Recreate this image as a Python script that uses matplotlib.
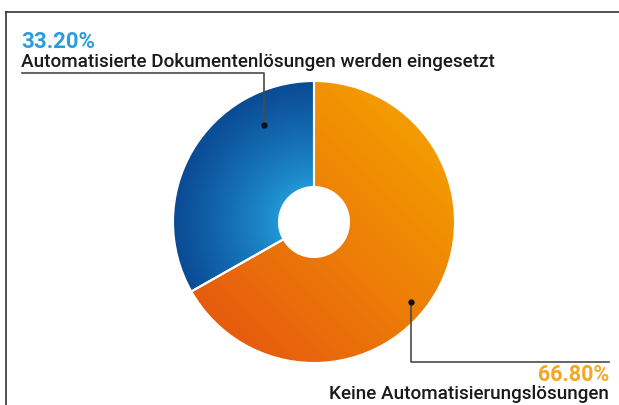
import numpy as np
import matplotlib
matplotlib.use("Agg")
import matplotlib.pyplot as plt

plt.rcParams["font.family"] = ["Roboto", "DejaVu Sans"]

labels = ["Automatisierte Dokumentenlösungen werden eingesetzt", "Keine Automatisierungslösungen"]
values = [33.20, 66.80]
pct_text = ["33.20%", "66.80%"]
pct_colors = ["#2a9ddb", "#f5a623"]

W, H = 619, 405
fig = plt.figure(figsize=(W / 100, H / 100), dpi=100)
ax = fig.add_axes([0, 0, 1, 1])
ax.set_xlim(0, W)
ax.set_ylim(0, H)
ax.set_aspect("equal")
ax.axis("off")

# frame (top and left lines)
ax.plot([6, W], [H - 12, H - 12], color="#222222", lw=1.1)
ax.plot([6, 6], [H - 12, 0], color="#222222", lw=1.1)

cx, cy, R, r_hole = 314, H - 222, 141, 35
wedges, _ = ax.pie(values, startangle=90, counterclock=True, radius=R, center=(cx, cy),
                   colors=["#1565b0", "#ee7a05"],
                   wedgeprops=dict(width=R - r_hole, edgecolor="white", linewidth=1.5))
ax.set_xlim(0, W)
ax.set_ylim(0, H)

# gradients clipped to the wedges
n = 300
xs = np.linspace(cx - R, cx + R, n)
ys = np.linspace(cy - R, cy + R, n)
X, Y = np.meshgrid(xs, ys)
rr = np.hypot(X - cx, Y - cy) / R
light = np.array([0x22, 0x9a, 0xd8]) / 255
dark = np.array([0x0a, 0x4a, 0x94]) / 255
t = np.clip((rr - 0.25) / 0.75, 0, 1)[..., None] ** 0.8
blue_img = light * (1 - t) + dark * t
ang = ((X - cx) + (Y - cy)) / (2 * R)
t2 = np.clip((ang + 0.7) / 1.4, 0, 1)[..., None]
o_top = np.array([0xf3, 0x9c, 0x00]) / 255
o_bot = np.array([0xe6, 0x5c, 0x0e]) / 255
orange_img = o_bot * (1 - t2) + o_top * t2
for w, img in zip(wedges, [blue_img, orange_img]):
    im = ax.imshow(img, extent=(cx - R, cx + R, cy - R, cy + R), origin="lower",
                   interpolation="bilinear", zorder=w.get_zorder())
    im.set_clip_path(w)
for w in wedges:
    w.set_facecolor("none")
    w.set_zorder(3)

# leader lines
ax.plot([22, 264, 264], [H - 73, H - 73, H - 125], color="#4a4a4a", lw=1.2, zorder=4)
ax.plot([264], [H - 125], "o", color="#111111", ms=3.5, zorder=5)
ax.plot([411, 411, 609], [H - 302, H - 362, H - 362], color="#4a4a4a", lw=1.2, zorder=4)
ax.plot([411], [H - 302], "o", color="#111111", ms=3.5, zorder=5)

# texts
ax.text(21, H - 48, pct_text[0], color=pct_colors[0], fontsize=16, fontweight="bold", va="baseline")
ax.text(21, H - 67, labels[0], color="#1a1a1a", fontsize=13.6, fontweight="medium", va="baseline")
ax.text(609, H - 381, pct_text[1], color=pct_colors[1], fontsize=15.5, fontweight="bold",
        va="baseline", ha="right")
ax.text(609, H - 399, labels[1], color="#1a1a1a", fontsize=13.6, fontweight="medium",
        va="baseline", ha="right")

fig.savefig("out.png", dpi=100)
